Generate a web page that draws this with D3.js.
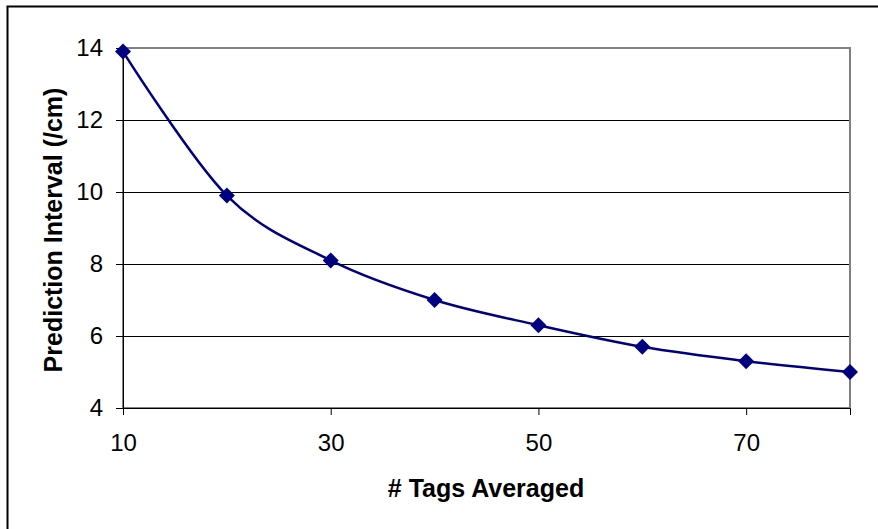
<!DOCTYPE html>
<html>
<head>
<meta charset="utf-8">
<script src="https://cdn.jsdelivr.net/npm/d3@7"></script>
<style>
  body { margin: 0; background: #fff; }
  text { font-family: "Liberation Sans", Arial, sans-serif; fill: #000; }
</style>
</head>
<body>
<svg id="chart" width="878" height="529"></svg>
<script>
const tagsAveraged = [10, 20, 30, 40, 50, 60, 70, 80];
const predictionInterval = [13.9, 9.9, 8.1, 7.0, 6.3, 5.7, 5.3, 5.0];
const xTicks = [10, 30, 50, 70];
const yTicks = [4, 6, 8, 10, 12, 14];

const data = tagsAveraged.map((x, i) => ({ x: x, y: predictionInterval[i] }));

const svg = d3.select("#chart");
const plotLeft = 123, plotRight = 850, plotTop = 48, plotBottom = 408;

const xScale = d3.scaleLinear().domain([10, 80]).range([plotLeft, plotRight]);
const yScale = d3.scaleLinear().domain([4, 14]).range([plotBottom, plotTop]);

// outer chart frame (only top and left edges show)
svg.append("rect")
    .attr("x", 7.5).attr("y", 6.5)
    .attr("width", 900).attr("height", 600)
    .attr("fill", "none").attr("stroke", "#000").attr("stroke-width", 2);

// gridlines
svg.append("g")
    .selectAll("line")
    .data(yTicks.filter(d => d > 4 && d < 14))
    .join("line")
    .attr("x1", plotLeft).attr("x2", plotRight)
    .attr("y1", d => Math.round(yScale(d)) + 0.5)
    .attr("y2", d => Math.round(yScale(d)) + 0.5)
    .attr("stroke", "#000");

// plot area border
svg.append("rect")
    .attr("x", plotLeft).attr("y", plotTop)
    .attr("width", plotRight - plotLeft).attr("height", plotBottom - plotTop)
    .attr("fill", "none").attr("stroke", "#808080").attr("stroke-width", 2);

// y axis
const yAxis = svg.append("g")
    .attr("transform", `translate(${plotLeft},0)`)
    .call(d3.axisLeft(yScale).tickValues(yTicks).tickSize(7).tickPadding(13));
yAxis.select(".domain").attr("stroke", "#000");
yAxis.selectAll("line").attr("stroke", "#000");
yAxis.selectAll("text")
    .attr("font-family", "Liberation Sans, Arial, sans-serif")
    .style("font-size", "24px");

// x axis
const xAxis = svg.append("g")
    .attr("transform", `translate(0,${plotBottom})`)
    .call(d3.axisBottom(xScale).tickValues(xTicks).tickSize(7).tickPadding(19));
xAxis.select(".domain").attr("stroke", "#000");
xAxis.selectAll("line").attr("stroke", "#000");
xAxis.selectAll("text")
    .attr("font-family", "Liberation Sans, Arial, sans-serif")
    .style("font-size", "24px");

// smoothed line
const line = d3.line()
    .x(d => xScale(d.x))
    .y(d => yScale(d.y))
    .curve(d3.curveCatmullRom.alpha(0));

svg.append("path")
    .datum(data)
    .attr("d", line)
    .attr("fill", "none")
    .attr("stroke", "#000080")
    .attr("stroke-width", 2.5);

// diamond markers
svg.append("g")
    .selectAll("path")
    .data(data)
    .join("path")
    .attr("transform", d => `translate(${xScale(d.x)},${yScale(d.y)})`)
    .attr("d", "M0,-8L8,0L0,8L-8,0Z")
    .attr("fill", "#000080");

// axis titles
svg.append("text")
    .attr("x", 486).attr("y", 497)
    .attr("text-anchor", "middle")
    .style("font-size", "25px").style("font-weight", "bold")
    .text("# Tags Averaged");

svg.append("text")
    .attr("transform", "translate(62,230) rotate(-90)")
    .attr("text-anchor", "middle")
    .style("font-size", "25px").style("font-weight", "bold")
    .text("Prediction Interval (/cm)");
</script>
</body>
</html>
